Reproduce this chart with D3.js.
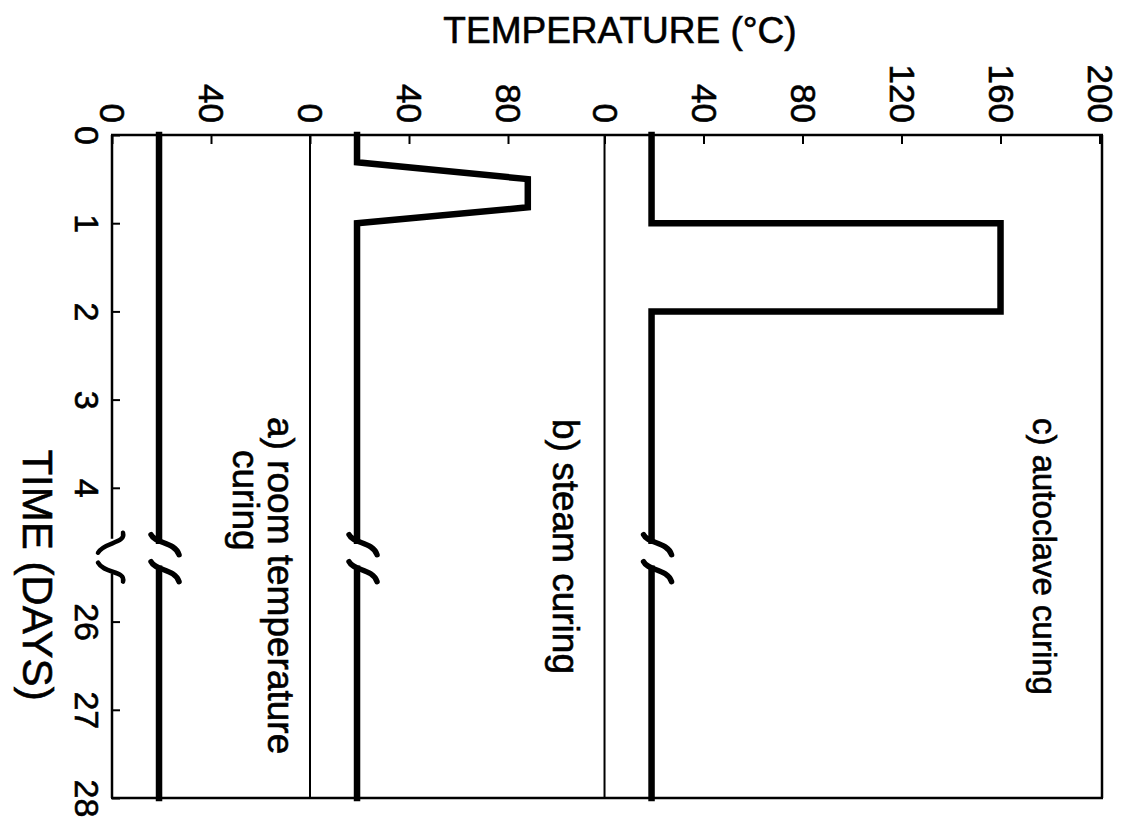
<!DOCTYPE html>
<html><head><meta charset="utf-8">
<script src="https://cdn.jsdelivr.net/npm/d3@7"></script>
<style>body{margin:0;background:#fff} svg{display:block}</style>
</head><body><svg id="chart" width="1130" height="820"></svg>
<script>
// ---------------- data ----------------
const timeTicks = [0, 1, 2, 3, 4, 26, 27, 28];
const breakDays = [4.6, 25.4];

const roomDays = [0, 28];
const roomTemps = [19, 19];

const steamDays = [0, 0.31, 0.5, 0.82, 1.0, 28];
const steamTemps = [19, 19, 88, 88, 19, 19];

const autoclaveDays = [0, 1, 1, 2, 2, 28];
const autoclaveTemps = [19, 19, 160, 160, 19, 19];

const roomTempTicks = [0, 40];
const steamTempTicks = [0, 40, 80];
const autoclaveTempTicks = [0, 40, 80, 120, 160, 200];

const panelNames = ["a) room temperature", "b) steam curing", "c) autoclave curing"];
const panelSecondLine = ["curing", "", ""];
const xTitle = "TIME (DAYS)";
const yTitle = "TEMPERATURE (°C)";

// ---------------- layout ----------------
const L = 112, R = 1102, T = 135, B = 798;
const dayPx = 88.2;
const panelOffsets = [0, 80, 199];
const font = "'Liberation Sans', Arial, Helvetica, sans-serif";
const textStroke = 0.6;

const svg = d3.select("#chart");

// temperature runs left->right (figure rotated 90° clockwise)
const x = d3.scaleLinear().domain([0, 400]).range([L, R]);
// time runs top->bottom with a broken segment
const y = d3.scaleLinear()
  .domain([0, breakDays[0], breakDays[1], 28])
  .range([T, T + breakDays[0] * dayPx, B - (28 - breakDays[1]) * dayPx, B]);

const series = [
  {days: roomDays, temps: roomTemps, off: panelOffsets[0], ticks: roomTempTicks},
  {days: steamDays, temps: steamTemps, off: panelOffsets[1], ticks: steamTempTicks},
  {days: autoclaveDays, temps: autoclaveTemps, off: panelOffsets[2], ticks: autoclaveTempTicks}
];

function styleText(sel, size) {
  return sel.attr("font-family", font).attr("font-size", size).attr("fill", "#000")
    .attr("stroke", "#000").attr("stroke-width", textStroke);
}

// ---------------- frame ----------------
const frame = svg.append("g").attr("stroke", "#000").attr("stroke-width", 2.5).attr("fill", "none");
frame.append("line").attr("x1", L - 1).attr("x2", R + 1).attr("y1", T).attr("y2", T);
frame.append("line").attr("x1", L - 1).attr("x2", R + 1).attr("y1", B).attr("y2", B);
frame.append("line").attr("x1", R).attr("x2", R).attr("y1", T).attr("y2", B);
frame.append("line").attr("x1", L).attr("x2", L).attr("y1", T).attr("y2", y(breakDays[0]) - 2);
frame.append("line").attr("x1", L).attr("x2", L).attr("y1", y(breakDays[1]) + 5).attr("y2", B);

// axis break marks on time axis
const yb1 = y(breakDays[0]), yb2 = y(breakDays[1]);
const brk = svg.append("g").attr("stroke", "#000").attr("stroke-width", 4.5).attr("fill", "none").attr("stroke-linecap", "round");
brk.append("path").attr("d", `M${L + 11},${yb1 - 8} C${L + 14},${yb1 + 3} ${L - 8},${yb1 + 1} ${L - 14},${yb1 + 12}`);
brk.append("path").attr("d", `M${L - 14},${yb2 - 6} C${L - 8},${yb2 + 5} ${L + 14},${yb2 + 2} ${L + 11},${yb2 + 13}`);

// zero baselines for panels b and c
series.slice(1).forEach(s => {
  svg.append("line").attr("x1", x(s.off)).attr("x2", x(s.off)).attr("y1", T).attr("y2", B)
    .attr("stroke", "#000").attr("stroke-width", 2);
});

// ---------------- time axis ----------------
const tAxis = svg.append("g").attr("transform", `translate(${L},0)`)
  .call(d3.axisLeft(y).tickValues(timeTicks).tickSize(-8).tickFormat(d3.format("d")));
tAxis.select(".domain").remove();
tAxis.selectAll(".tick line").attr("stroke", "#000").attr("stroke-width", 2);
styleText(tAxis.selectAll(".tick text"), 34)
  .attr("x", 0).attr("y", 0).attr("dy", "0.35em")
  .attr("text-anchor", "middle")
  .attr("transform", "translate(-25,0) rotate(90)");

// ---------------- temperature axes ----------------
series.forEach(s => {
  const g = svg.append("g").attr("transform", `translate(0,${T})`)
    .call(d3.axisTop(x).tickValues(s.ticks.map(v => v + s.off)).tickSize(-9)
      .tickFormat(v => d3.format("d")(v - s.off)));
  g.select(".domain").remove();
  g.selectAll(".tick line").attr("stroke", "#000").attr("stroke-width", 2);
  styleText(g.selectAll(".tick text"), 35)
    .attr("x", 0).attr("y", 0).attr("dy", "0.35em")
    .attr("text-anchor", "end")
    .attr("transform", "translate(0,-12) rotate(90)");
});

// ---------------- data lines ----------------
const lineGen = d3.line().x(d => d[0]).y(d => d[1]);
series.forEach(s => {
  const pts = s.days.map((d, i) => [x(s.temps[i] + s.off), y(d)]);
  const upper = pts.filter((p, i) => s.days[i] <= breakDays[0]);
  const lastUp = s.temps[s.days.findIndex(d => d > breakDays[0]) - 1];
  upper.push([x(lastUp + s.off), y(breakDays[0])]);
  const lower = [[x(lastUp + s.off), y(breakDays[1])]].concat(pts.filter((p, i) => s.days[i] >= breakDays[1]));
  [upper, lower].forEach(seg => {
    svg.append("path").attr("d", lineGen(seg)).attr("fill", "none")
      .attr("stroke", "#000").attr("stroke-width", 6.5).attr("stroke-linejoin", "miter").attr("stroke-linecap", "square");
  });
  const lx = x(lastUp + s.off);
  [[lx + 6, yb1 + 4], [lx + 6, yb2 + 3]].forEach(c => {
    svg.append("path")
      .attr("d", `M${c[0] - 14},${c[1] - 10} C${c[0] - 10},${c[1] - 1} ${c[0] + 10},${c[1] - 3} ${c[0] + 14},${c[1] + 10}`)
      .attr("fill", "none").attr("stroke", "#000").attr("stroke-width", 5.5).attr("stroke-linecap", "round");
  });
});

// ---------------- titles ----------------
styleText(svg.append("text"), 37).attr("x", 620).attr("y", 43).attr("text-anchor", "middle").text(yTitle);
styleText(svg.append("text"), 42).attr("transform", "translate(38,575) rotate(90)")
  .attr("dy", "0.35em").attr("text-anchor", "middle").text(xTitle);

// ---------------- panel labels ----------------
const labelPos = [[268, 417], [553, 419], [1033, 418]];
const labelSize = [37, 37, 33];
panelNames.forEach((name, i) => {
  styleText(svg.append("text"), labelSize[i])
    .attr("transform", `translate(${labelPos[i][0]},${labelPos[i][1]}) rotate(90)`).text(name);
  if (panelSecondLine[i]) {
    const prefix = svg.append("text").attr("font-family", font).attr("font-size", labelSize[i])
      .attr("visibility", "hidden").text(name.split(" ")[0] + " ");
    const ind = prefix.node().getComputedTextLength();
    prefix.remove();
    styleText(svg.append("text"), labelSize[i])
      .attr("transform", `translate(${labelPos[i][0] - 35},${labelPos[i][1] + ind}) rotate(90)`)
      .text(panelSecondLine[i]);
  }
});
</script>
</body></html>
